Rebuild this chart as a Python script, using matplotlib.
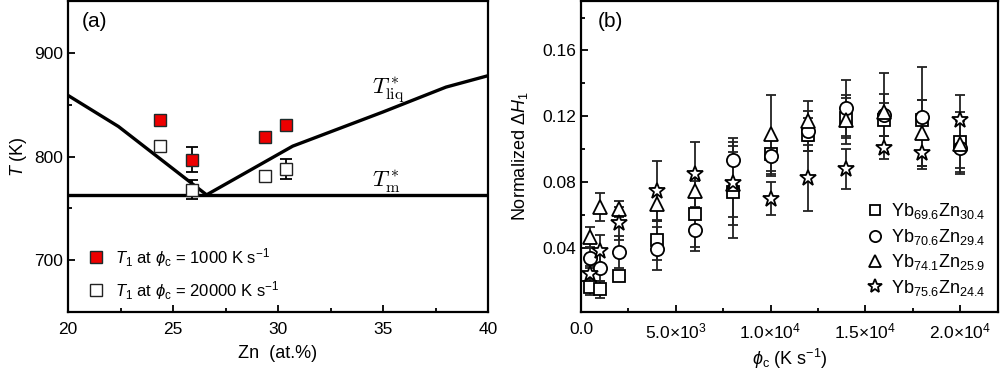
import matplotlib
matplotlib.use("Agg")
import math
import matplotlib.pyplot as plt
from matplotlib.ticker import MultipleLocator, FuncFormatter
from matplotlib.lines import Line2D

plt.rcParams['font.family'] = ['Liberation Sans', 'DejaVu Sans']
plt.rcParams['mathtext.fontset'] = 'custom'
plt.rcParams['mathtext.rm'] = 'Liberation Sans'
plt.rcParams['mathtext.it'] = 'Liberation Sans:italic'
plt.rcParams['mathtext.bf'] = 'Liberation Sans:bold'

# ---------------- Panel (a) data ----------------
zn_comp = [24.4, 25.9, 29.4, 30.4]
t1_slow = [835, 797, 819, 830]             # phi_c = 1000 K/s
t1_slow_err = [3, 12, 3, 3]
t1_fast = [810, 768, 781, 788]             # phi_c = 20000 K/s
t1_fast_err = [3, 9, 3, 9.5]

liq_x = [20, 22.4, 26.6, 30.7, 35, 38, 40]
liq_y = [859, 829, 763, 810, 843, 867, 878]
tm_x = [20, 40]
tm_y = [763, 763]

# ---------------- Panel (b) data ----------------
phi_c = [500, 1000, 2000, 4000, 6000, 8000, 10000, 12000, 14000, 16000, 18000, 20000]
dh_sq = [0.0163, 0.0147, 0.0226, 0.0447, 0.0605, 0.0738, 0.0968, 0.1087, 0.119, 0.118, 0.118, 0.1043]
dh_sq_err = [0.005, 0.005, 0.003, 0.012, 0.02, 0.028, 0.01, 0.01, 0.012, 0.01, 0.012, 0.018]
dh_ci = [0.0339, 0.0278, 0.0374, 0.0394, 0.0511, 0.0935, 0.0957, 0.111, 0.125, 0.1207, 0.1197, 0.1008]
dh_ci_err = [0.006, 0.008, 0.01, 0.013, 0.013, 0.013, 0.012, 0.012, 0.017, 0.013, 0.03, 0.016]
dh_tr = [0.0467, 0.065, 0.0637, 0.0664, 0.0745, 0.0785, 0.109, 0.117, 0.118, 0.1225, 0.110, 0.1034]
dh_tr_err = [0.006, 0.0085, 0.005, 0.01, 0.012, 0.02, 0.024, 0.012, 0.015, 0.024, 0.02, 0.015]
dh_st = [0.0238, 0.038, 0.0548, 0.0745, 0.0846, 0.0791, 0.0698, 0.0826, 0.088, 0.1008, 0.0978, 0.118]
dh_st_err = [0.005, 0.01, 0.01, 0.018, 0.02, 0.025, 0.01, 0.02, 0.012, 0.007, 0.01, 0.015]

labels_b = [r'Yb$_{69.6}$Zn$_{30.4}$', r'Yb$_{70.6}$Zn$_{29.4}$',
            r'Yb$_{74.1}$Zn$_{25.9}$', r'Yb$_{75.6}$Zn$_{24.4}$']

fig = plt.figure(figsize=(10, 3.7), dpi=100)
axa = fig.add_axes([0.068, 0.157, 0.420, 0.840])
axb = fig.add_axes([0.581, 0.157, 0.417, 0.840])


def style_axes(ax):
    for s in ax.spines.values():
        s.set_linewidth(1.6)
    ax.tick_params(which='both', direction='in', width=1.3, labelsize=12.5)
    ax.tick_params(which='major', length=5)
    ax.tick_params(which='minor', length=3)
    ax.tick_params(axis='x', pad=7)


# ---- Panel (a) ----
axa.plot(liq_x, liq_y, color='black', lw=2.4)
axa.plot(tm_x, tm_y, color='black', lw=2.4)
axa.errorbar(zn_comp, t1_slow, yerr=t1_slow_err, fmt='none', ecolor='black',
             elinewidth=1.3, capsize=4, capthick=1.3, zorder=3)
axa.errorbar(zn_comp, t1_fast, yerr=t1_fast_err, fmt='none', ecolor='black',
             elinewidth=1.3, capsize=4, capthick=1.3, zorder=3)
axa.plot(zn_comp, t1_slow, ls='none', marker='s', ms=8, mfc='#ee0000',
         mec='#1c2b2b', mew=1.0, zorder=4)
axa.plot(zn_comp, t1_fast, ls='none', marker='s', ms=8, mfc='white',
         mec='#222222', mew=1.0, zorder=4)
axa.set_xlim(20, 40)
axa.set_ylim(650, 950)
axa.xaxis.set_major_locator(MultipleLocator(5))
axa.xaxis.set_minor_locator(MultipleLocator(2.5))
axa.yaxis.set_major_locator(MultipleLocator(100))
axa.yaxis.set_minor_locator(MultipleLocator(50))
style_axes(axa)
axa.set_xlabel('Zn  (at.%)', fontsize=13, labelpad=6)
axa.set_ylabel(r'$T$ (K)', fontsize=13, labelpad=4)
axa.text(0.033, 0.965, '(a)', transform=axa.transAxes, fontsize=15, va='top', ha='left')
axa.text(34.5, 860, r'$T^*_{\rm liq}$', fontsize=16.5, math_fontfamily='cm', ha='left', va='baseline')
axa.text(34.5, 770, r'$T^*_{\rm m}$', fontsize=16.5, math_fontfamily='cm', ha='left', va='baseline')

h1 = Line2D([], [], ls='none', marker='s', ms=8, mfc='#ee0000', mec='#1c2b2b', mew=1.0)
h2 = Line2D([], [], ls='none', marker='s', ms=8, mfc='white', mec='#222222', mew=1.0)
axa.legend([h1, h2], [r'$T_1$ at $\phi_{\rm c}$ = 1000 K s$^{-1}$',
                      r'$T_1$ at $\phi_{\rm c}$ = 20000 K s$^{-1}$'],
           loc='lower left', bbox_to_anchor=(0.0, -0.015), frameon=False, fontsize=12,
           handletextpad=0.4, handlelength=1.5, labelspacing=0.6)

# ---- Panel (b) ----
series = [(dh_sq, dh_sq_err, 's', 9), (dh_ci, dh_ci_err, 'o', 9.5),
          (dh_tr, dh_tr_err, '^', 10.5), (dh_st, dh_st_err, '*', 12)]
handles = []
for (vals, errs, mk, ms), lab in zip(series, labels_b):
    axb.errorbar(phi_c, vals, yerr=errs, fmt='none', ecolor='#222222', elinewidth=1.3,
                 capsize=3.5, capthick=1.3, zorder=2)
    axb.plot(phi_c, vals, ls='none', marker=mk, ms=ms, mfc='white', mec='black',
             mew=1.3, zorder=3)
    handles.append(Line2D([], [], ls='none', marker=mk, ms=ms * 0.85, mfc='white',
                          mec='black', mew=1.3))
axb.set_xlim(0, 22000)
axb.set_ylim(0.001, 0.19)
axb.xaxis.set_major_locator(MultipleLocator(5000))
axb.xaxis.set_minor_locator(MultipleLocator(2500))
axb.yaxis.set_major_locator(MultipleLocator(0.04))
axb.yaxis.set_minor_locator(MultipleLocator(0.02))


def xfmt(v, pos):
    if abs(v) < 1e-9:
        return '0.0'
    e = int(math.floor(math.log10(abs(v))))
    m = v / 10 ** e
    return r'%.1f$\times$10$^{%d}$' % (m, e)


axb.xaxis.set_major_formatter(FuncFormatter(xfmt))
axb.yaxis.set_major_formatter(FuncFormatter(lambda v, p: '%.2f' % v))
style_axes(axb)
axb.set_xlabel(r'$\phi_{\rm c}$ (K s$^{-1}$)', fontsize=13, labelpad=4)
axb.set_ylabel(r'Normalized $\Delta H_1$', fontsize=13, labelpad=9)
axb.text(0.04, 0.965, '(b)', transform=axb.transAxes, fontsize=15, va='top', ha='left')
axb.legend(handles, labels_b, loc='lower right', bbox_to_anchor=(1.0, 0.005),
           frameon=False, fontsize=13, handletextpad=0.3, handlelength=1.2,
           labelspacing=0.3, borderaxespad=0.3)

fig.savefig('out.png', dpi=100)
